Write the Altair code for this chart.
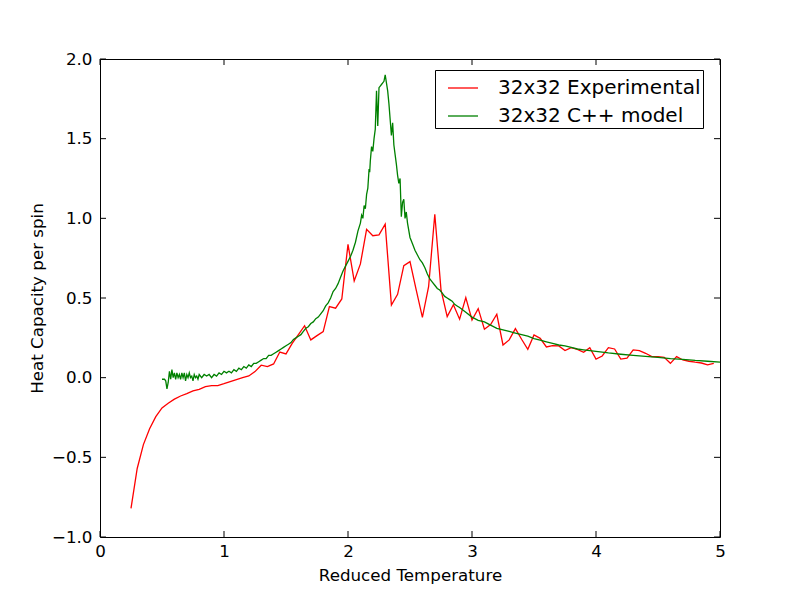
import altair as alt
import pandas as pd

# Red series: 32x32 Experimental
red_T = [0.25, 0.30, 0.35, 0.40, 0.45, 0.50, 0.55, 0.60, 0.65, 0.70, 0.75, 0.80, 0.85, 0.90, 0.95,
         1.00, 1.05, 1.10, 1.15, 1.20, 1.25, 1.30, 1.35, 1.40, 1.45, 1.50, 1.55, 1.60, 1.65, 1.70,
         1.75, 1.80, 1.85, 1.90, 1.95, 2.00, 2.05, 2.10, 2.15, 2.20, 2.25, 2.30, 2.35, 2.40, 2.45,
         2.50, 2.55, 2.60, 2.65, 2.70, 2.75, 2.80, 2.85, 2.90, 2.95, 3.00, 3.05, 3.10, 3.15, 3.20,
         3.25, 3.30, 3.35, 3.40, 3.45, 3.50, 3.55, 3.60, 3.65, 3.70, 3.75, 3.80, 3.85, 3.90, 3.95,
         4.00, 4.05, 4.10, 4.15, 4.20, 4.25, 4.30, 4.35, 4.40, 4.45, 4.50, 4.55, 4.60, 4.65, 4.70,
         4.75, 4.80, 4.85, 4.90, 4.95]
red_C = [-0.82, -0.57, -0.42, -0.32, -0.245, -0.19, -0.16, -0.135, -0.115, -0.10, -0.083, -0.073, -0.056, -0.05, -0.05,
         -0.038, -0.025, -0.012, 0.0, 0.011, 0.038, 0.078, 0.069, 0.086, 0.161, 0.149, 0.215, 0.27, 0.326, 0.237,
         0.264, 0.289, 0.446, 0.436, 0.494, 0.837, 0.607, 0.714, 0.931, 0.891, 0.896, 0.963, 0.456, 0.523, 0.703,
         0.728, 0.551, 0.379, 0.571, 1.026, 0.551, 0.383, 0.458, 0.367, 0.502, 0.362, 0.433, 0.304, 0.333, 0.398,
         0.205, 0.237, 0.308, 0.241, 0.178, 0.268, 0.247, 0.193, 0.201, 0.199, 0.170, 0.188, 0.178, 0.159, 0.188,
         0.117, 0.136, 0.188, 0.180, 0.117, 0.122, 0.174, 0.170, 0.153, 0.132, 0.132, 0.128, 0.090, 0.132, 0.111,
         0.103, 0.097, 0.092, 0.080, 0.090]

# Green series: 32x32 C++ model
green_T = [0.50, 0.52, 0.53, 0.54, 0.55, 0.56, 0.57, 0.58, 0.59, 0.60, 0.61, 0.62, 0.63, 0.64, 0.65,
           0.66, 0.67, 0.68, 0.69, 0.70, 0.71, 0.72, 0.73, 0.74, 0.75, 0.76, 0.77, 0.78, 0.79, 0.80,
           0.82, 0.84, 0.86, 0.88, 0.90, 0.92, 0.94, 0.96, 0.98, 1.00, 1.02, 1.04, 1.06, 1.08, 1.10,
           1.12, 1.14, 1.16, 1.18, 1.20, 1.22, 1.24, 1.26, 1.28, 1.30, 1.32, 1.34, 1.36, 1.38, 1.40,
           1.42, 1.44, 1.46, 1.48, 1.50, 1.52, 1.54, 1.56, 1.58, 1.60, 1.62, 1.64, 1.66, 1.68, 1.70,
           1.72, 1.74, 1.76, 1.78, 1.80, 1.82, 1.84, 1.86, 1.88, 1.90, 1.92, 1.94, 1.96, 1.98, 2.00,
           2.02, 2.04, 2.06, 2.08, 2.10, 2.11, 2.12, 2.13, 2.14, 2.15, 2.16, 2.17, 2.175, 2.18, 2.19,
           2.20, 2.21, 2.22, 2.23, 2.24, 2.25, 2.26, 2.27, 2.28, 2.29, 2.30, 2.31, 2.32, 2.33, 2.34,
           2.35, 2.36, 2.37, 2.38, 2.39, 2.40, 2.41, 2.42, 2.43, 2.44, 2.45, 2.46, 2.47, 2.48, 2.50,
           2.52, 2.54, 2.56, 2.58, 2.60, 2.62, 2.64, 2.66, 2.68, 2.70, 2.72, 2.74, 2.76, 2.78, 2.80,
           2.82, 2.84, 2.86, 2.88, 2.90, 2.95, 3.00, 3.05, 3.10, 3.15, 3.20, 3.25, 3.30, 3.35, 3.40,
           3.45, 3.50, 3.55, 3.60, 3.65, 3.70, 3.75, 3.80, 3.85, 3.90, 3.95, 4.00, 4.10, 4.20, 4.30,
           4.40, 4.50, 4.60, 4.70, 4.80, 4.90, 5.00]
green_C = [-0.01, -0.01, -0.02, -0.07, -0.03, 0.04, -0.01, 0.05, 0.00, 0.03, -0.01, 0.03, 0.00, 0.02, -0.01,
           0.03, 0.00, 0.03, -0.02, 0.02, 0.00, 0.03, 0.00, 0.01, -0.02, 0.02, 0.00, 0.01, -0.01, 0.02,
           0.00, 0.02, 0.01, 0.02, 0.00, 0.02, 0.01, 0.03, 0.02, 0.04, 0.03, 0.04, 0.03, 0.05, 0.04,
           0.06, 0.05, 0.07, 0.06, 0.08, 0.07, 0.09, 0.09, 0.10, 0.11, 0.12, 0.12, 0.14, 0.14, 0.15,
           0.16, 0.17, 0.18, 0.19, 0.20, 0.21, 0.22, 0.24, 0.25, 0.26, 0.27, 0.29, 0.31, 0.32, 0.34,
           0.35, 0.37, 0.38, 0.40, 0.42, 0.45, 0.47, 0.50, 0.54, 0.56, 0.59, 0.63, 0.67, 0.70, 0.73,
           0.76, 0.80, 0.85, 0.92, 0.97, 1.02, 1.00, 1.08, 1.06, 1.15, 1.19, 1.31, 1.29, 1.36, 1.45,
           1.42, 1.50, 1.56, 1.80, 1.58, 1.82, 1.83, 1.84, 1.85, 1.86, 1.90, 1.85, 1.80, 1.72, 1.62,
           1.52, 1.60, 1.46, 1.40, 1.34, 1.27, 1.22, 1.25, 1.01, 1.10, 1.12, 1.00, 1.04, 0.97, 0.88,
           0.84, 0.80, 0.77, 0.74, 0.72, 0.69, 0.65, 0.62, 0.60, 0.58, 0.56, 0.55, 0.53, 0.51, 0.50,
           0.49, 0.48, 0.46, 0.45, 0.44, 0.41, 0.38, 0.36, 0.35, 0.33, 0.31, 0.30, 0.29, 0.28, 0.27,
           0.26, 0.245, 0.235, 0.225, 0.215, 0.205, 0.20, 0.19, 0.18, 0.175, 0.17, 0.165, 0.155, 0.147, 0.14,
           0.133, 0.127, 0.12, 0.115, 0.108, 0.103, 0.098]

series_names = ["32x32 Experimental", "32x32 C++ model"]
series_colors = ["#ff0000", "#008000"]

x_ticks = [0, 1, 2, 3, 4, 5]
y_ticks = [-1.0, -0.5, 0.0, 0.5, 1.0, 1.5, 2.0]

W, H = 620, 478
FONT = "DejaVu Sans"

red_df = pd.DataFrame({"T": red_T, "C": red_C, "series": series_names[0]})
green_df = pd.DataFrame({"T": green_T, "C": green_C, "series": series_names[1]})
xt_df = pd.DataFrame({"T": x_ticks})
yt_df = pd.DataFrame({"C": y_ticks})

xscale = alt.Scale(domain=[0, 5], nice=False, zero=False)
yscale = alt.Scale(domain=[-1, 2], nice=False, zero=False)

xaxis = alt.Axis(values=x_ticks, format="d", ticks=False, domain=False, grid=False,
                 labelFlush=False, labelOverlap=False,
                 labelPadding=6, labelFontSize=16.7, labelFont=FONT, labelColor="black",
                 title="Reduced Temperature", titleFont=FONT, titleFontSize=16.7,
                 titleFontWeight="normal", titleColor="black", titlePadding=8)
yaxis = alt.Axis(values=y_ticks, format=".1f", ticks=False, domain=False, grid=False,
                 labelFlush=False, labelOverlap=False,
                 labelPadding=8, labelFontSize=16.7, labelFont=FONT, labelColor="black",
                 title="Heat Capacity per spin", titleFont=FONT, titleFontSize=16.7,
                 titleFontWeight="normal", titleColor="black", titlePadding=5)

X = alt.X("T:Q", scale=xscale, axis=xaxis)
Y = alt.Y("C:Q", scale=yscale, axis=yaxis)

color = alt.Color(
    "series:N",
    scale=alt.Scale(domain=series_names, range=series_colors),
    legend=alt.Legend(
        title=None, orient="none", legendX=335, legendY=11,
        symbolType="stroke", symbolSize=900, symbolStrokeWidth=1.3, symbolOffset=10,
        labelFont=FONT, labelFontSize=20, labelColor="black", labelOffset=19,
        padding=2, rowPadding=2, strokeColor="black", fillColor="white",
        cornerRadius=0, labelLimit=400,
    ),
)

red_line = alt.Chart(red_df).mark_line(strokeWidth=1.3, clip=True).encode(x=X, y=Y, color=color)
green_line = alt.Chart(green_df).mark_line(strokeWidth=1.3, clip=True).encode(x=X, y=Y, color=color)

tick_len = 6
bottom_ticks = alt.Chart(xt_df).mark_rule(color="black", strokeWidth=1).encode(
    x=X, y=alt.value(H), y2=alt.value(H - tick_len))
top_ticks = alt.Chart(xt_df).mark_rule(color="black", strokeWidth=1).encode(
    x=X, y=alt.value(0), y2=alt.value(tick_len))
left_ticks = alt.Chart(yt_df).mark_rule(color="black", strokeWidth=1).encode(
    y=Y, x=alt.value(0), x2=alt.value(tick_len))
right_ticks = alt.Chart(yt_df).mark_rule(color="black", strokeWidth=1).encode(
    y=Y, x=alt.value(W), x2=alt.value(W - tick_len))

chart = alt.layer(
    red_line, green_line, bottom_ticks, top_ticks, left_ticks, right_ticks
).properties(
    width=W, height=H,
    autosize=alt.AutoSizeParams(type="none"),
    padding={"left": 92, "top": 51, "right": 72, "bottom": 52},
    background="white",
).configure_view(
    stroke="black", strokeWidth=1
)

chart.save("out.html", embed_options={"renderer": "svg", "actions": False})
